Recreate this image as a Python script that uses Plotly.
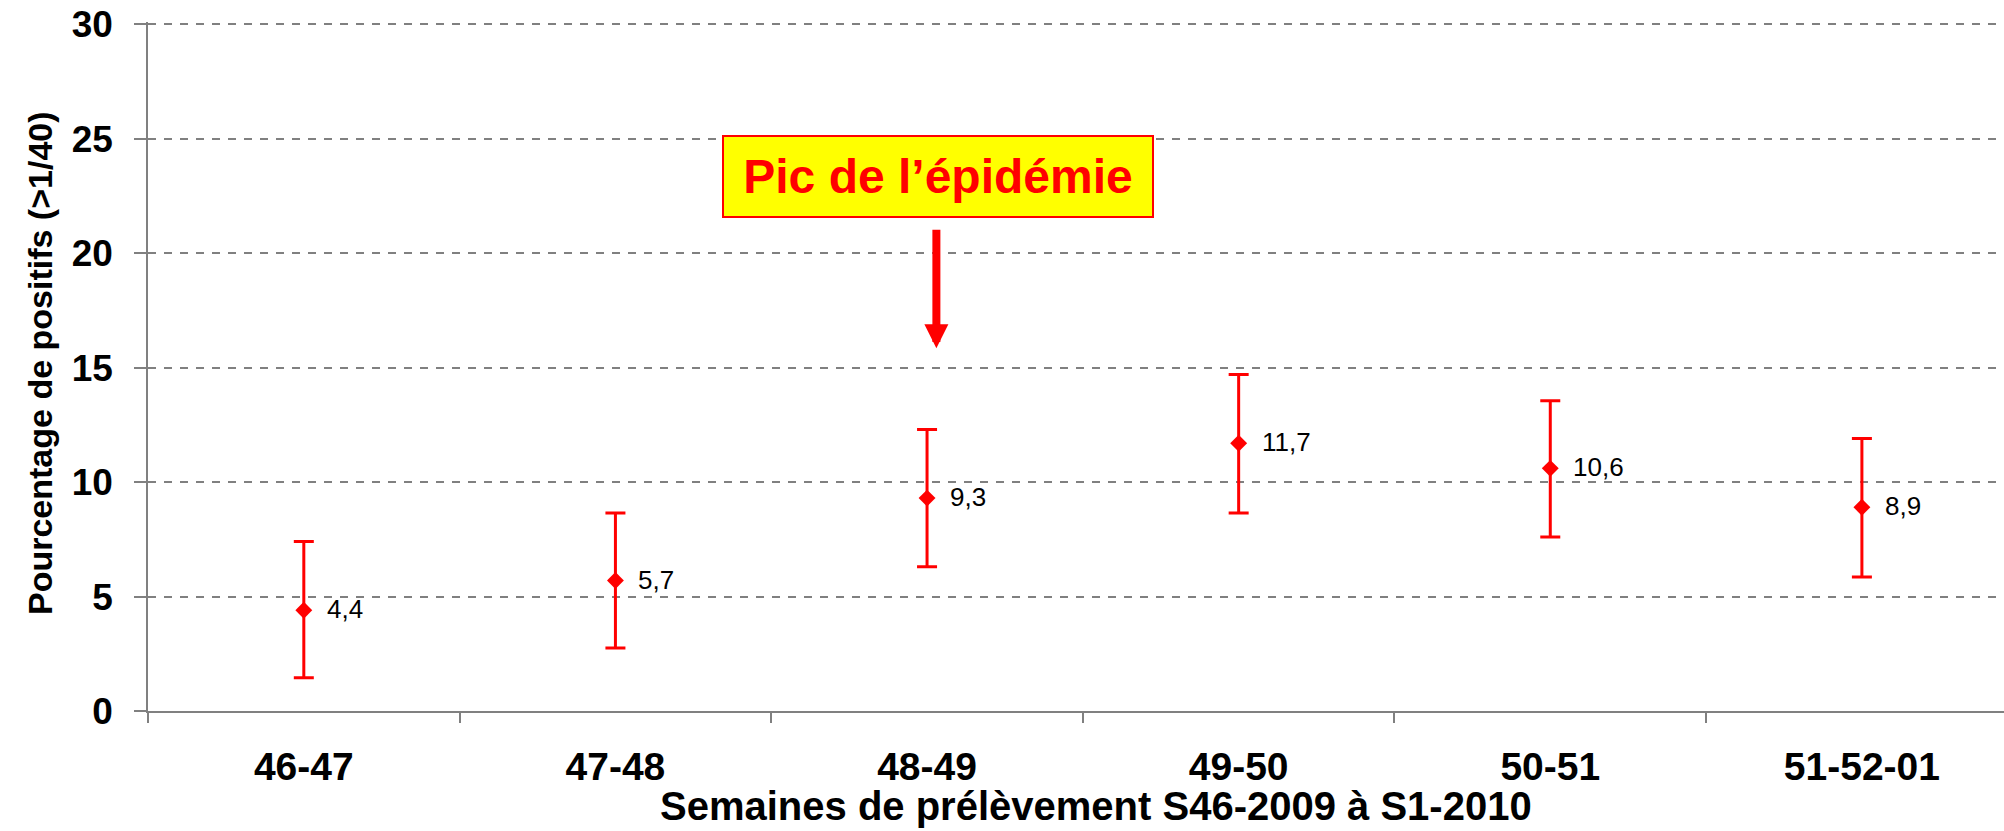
import plotly.graph_objects as go

categories = ["46-47", "47-48", "48-49", "49-50", "50-51", "51-52-01"]
values = [4.4, 5.7, 9.3, 11.7, 10.6, 8.9]
err_plus = [3.0, 2.95, 3.0, 3.0, 2.95, 3.0]
err_minus = [2.95, 2.95, 3.0, 3.05, 3.0, 3.05]
labels = ["4,4", "5,7", "9,3", "11,7", "10,6", "8,9"]

W, H = 2004, 831
L, R, T, B = 148, 0, 22, 120
FONT = "Liberation Sans, Arial, sans-serif"
RED = "#FF0000"
GRAY = "#808080"

fig = go.Figure()
fig.add_trace(go.Scatter(
    x=categories, y=values, mode="markers",
    marker=dict(symbol="diamond", size=13, color=RED, line=dict(width=0)),
    error_y=dict(type="data", symmetric=False, array=err_plus, arrayminus=err_minus,
                 color=RED, thickness=3, width=10),
    showlegend=False, hoverinfo="skip",
))

annotations = []
for c, v, lab in zip(categories, values, labels):
    annotations.append(dict(x=c, y=v, xref="x", yref="y", text=lab, showarrow=False,
                            xanchor="left", yanchor="middle", xshift=21, yshift=1,
                            font=dict(family=FONT, size=26, color="black")))

# Peak annotation box
annotations.append(dict(x=2.035, y=23.35, xref="x", yref="y",
                        text="<b>Pic de l\u2019épidémie</b>", showarrow=False,
                        font=dict(family=FONT, size=48, color=RED),
                        bgcolor="#FFFF00", bordercolor=RED, borderwidth=2,
                        width=426, height=77, xanchor="center", yanchor="middle"))
# Arrow
annotations.append(dict(x=2.03, y=15.85, xref="x", yref="y", text="",
                        showarrow=True, ax=0, ay=-120, axref="pixel", ayref="pixel",
                        arrowhead=2, arrowsize=0.6, arrowwidth=8, arrowcolor=RED, standoff=0))
# Axis titles
PH = H - B - T
annotations.append(dict(x=(40 - L) / (W - L), y=(H - B - 363) / PH, xref="paper", yref="paper",
                        text="<b>Pourcentage de positifs (>1/40)</b>", textangle=-90, showarrow=False,
                        xanchor="center", yanchor="middle",
                        font=dict(family=FONT, size=34, color="black")))
annotations.append(dict(x=(1096 - L) / (W - L), y=(H - B - 806) / PH, xref="paper", yref="paper",
                        text="<b>Semaines de prélèvement S46-2009 à S1-2010</b>", showarrow=False,
                        xanchor="center", yanchor="middle",
                        font=dict(family=FONT, size=40, color="black")))

fig.update_layout(
    width=W, height=H,
    margin=dict(l=L, r=R, t=T, b=B, pad=0),
    plot_bgcolor="white", paper_bgcolor="white",
    annotations=annotations,
    xaxis=dict(type="category", categoryorder="array", categoryarray=categories,
               range=[-0.5, 5.456], showgrid=False, tickson="boundaries",
               ticks="outside", ticklen=10, tickcolor=GRAY, tickwidth=1.5,
               showline=True, linecolor=GRAY, linewidth=1.5, zeroline=False,
               tickfont=dict(family=FONT, size=39, color="black", weight="bold"),
               ticklabelstandoff=20),
    yaxis=dict(range=[0, 30.1], tickvals=[0, 5, 10, 15, 20, 25, 30],
               showgrid=True, gridcolor=GRAY, gridwidth=1.5, griddash="8px,8px",
               ticks="outside", ticklen=12, tickcolor=GRAY, tickwidth=1.5,
               showline=True, linecolor=GRAY, linewidth=1.5, zeroline=False,
               tickfont=dict(family=FONT, size=37, color="black", weight="bold"),
               ticklabelstandoff=14),
)

fig.write_html("out.html", config={"displayModeBar": False})

with open("out.html", encoding="utf-8") as f:
    html = f.read()
html = html.replace("<head>", "<head><style>html,body{margin:0;padding:0;overflow:hidden;}</style>", 1)
with open("out.html", "w", encoding="utf-8") as f:
    f.write(html)
